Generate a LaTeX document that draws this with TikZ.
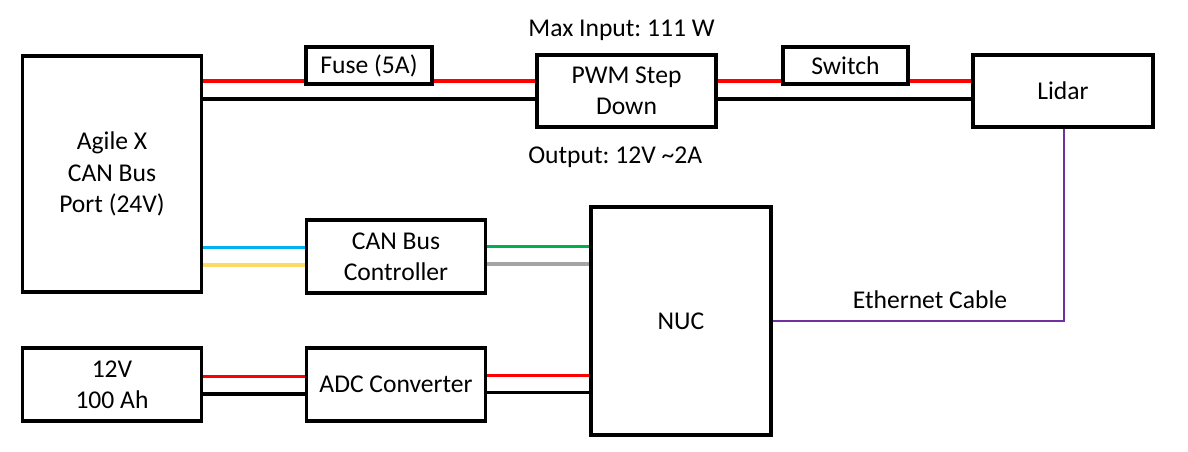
\documentclass[tikz,border=0pt]{standalone}
\usepackage{fontspec}
\setmainfont{Carlito}
\frenchspacing
\begin{document}
\begin{tikzpicture}[x=0.75pt,y=-0.75pt,
  box/.style={draw=black,line width=2.5pt,fill=white,inner sep=0pt,align=center,font=\fontsize{19.2}{23.5}\selectfont},
  lbl/.style={inner sep=0pt,font=\fontsize{19.2}{23.5}\selectfont},
  wire/.style={line width=2.5pt},
  redw/.style={wire,draw={rgb,255:red,255;green,0;blue,0}},
  blkw/.style={wire,draw=black},
  bluew/.style={wire,draw={rgb,255:red,0;green,176;blue,240}},
  yelw/.style={wire,draw={rgb,255:red,255;green,217;blue,102}},
  grnw/.style={wire,draw={rgb,255:red,0;green,176;blue,80}},
  gryw/.style={wire,draw={rgb,255:red,165;green,165;blue,165}},
  purw/.style={line width=2.2pt,draw={rgb,255:red,112;green,48;blue,160}}]
\useasboundingbox (0,0) rectangle (1188,452);
\fill[white] (0,0) rectangle (1188,452);

\node[box,minimum width=179*0.75pt,minimum height=236*0.75pt] (agile) at (112,174) {Agile X\\CAN Bus\\Port (24V)};
\node[box,minimum width=126*0.75pt,minimum height=37*0.75pt] (fuse) at (369,65.5) {Fuse (5A)};
\node[box,minimum width=179*0.75pt,minimum height=72*0.75pt] (pwm) at (626.5,91) {PWM Step\\Down};
\node[box,minimum width=125*0.75pt,minimum height=37*0.75pt] (switch) at (845.5,65.5) {Switch};
\node[box,minimum width=180*0.75pt,minimum height=72*0.75pt] (lidar) at (1063,91) {Lidar};
\node[box,minimum width=179*0.75pt,minimum height=73*0.75pt] (can) at (396,256.5) {CAN Bus\\Controller};
\node[box,minimum width=180*0.75pt,minimum height=228*0.75pt] (nuc) at (681,321) {NUC};
\node[box,minimum width=179*0.75pt,minimum height=73*0.75pt] (batt) at (112,384.5) {12V\\100 Ah};
\node[box,minimum width=179*0.75pt,minimum height=73*0.75pt] (adc) at (396,384.5) {ADC Converter};

\node[lbl,anchor=base] (maxin) at (621.5,36.5) {Max Input: 111 W};
\node[lbl,anchor=base west] (outp) at (528,164) {Output: 12V \textasciitilde 2A};
\node[lbl,anchor=base] (eth) at (930,308) {Ethernet Cable};

% top power line
\draw[redw] (agile.east |- 0,81) -- (fuse.west |- 0,81);
\draw[redw] (fuse.east |- 0,81) -- (pwm.west |- 0,81);
\draw[blkw] (agile.east |- 0,99) -- (pwm.west |- 0,99);
\draw[redw] (pwm.east |- 0,81) -- (switch.west |- 0,81);
\draw[redw] (switch.east |- 0,81) -- (lidar.west |- 0,81);
\draw[blkw] (pwm.east |- 0,99) -- (lidar.west |- 0,99);

% CAN
\draw[bluew] (agile.east |- 0,247.5) -- (can.west |- 0,247.5);
\draw[yelw] (agile.east |- 0,265) -- (can.west |- 0,265);
\draw[grnw] (can.east |- 0,246.5) -- (nuc.west |- 0,246.5);
\draw[gryw] (can.east |- 0,264) -- (nuc.west |- 0,264);

% battery
\draw[redw] (batt.east |- 0,376.5) -- (adc.west |- 0,376.5);
\draw[blkw] (batt.east |- 0,394) -- (adc.west |- 0,394);
\draw[redw] (adc.east |- 0,375.5) -- (nuc.west |- 0,375.5);
\draw[blkw] (adc.east |- 0,392.5) -- (nuc.west |- 0,392.5);

% ethernet
\coordinate (ethc) at (1064,321);
\draw[purw] (lidar.south -| ethc) -- (ethc) -- (nuc.east |- ethc);
\end{tikzpicture}
\end{document}
